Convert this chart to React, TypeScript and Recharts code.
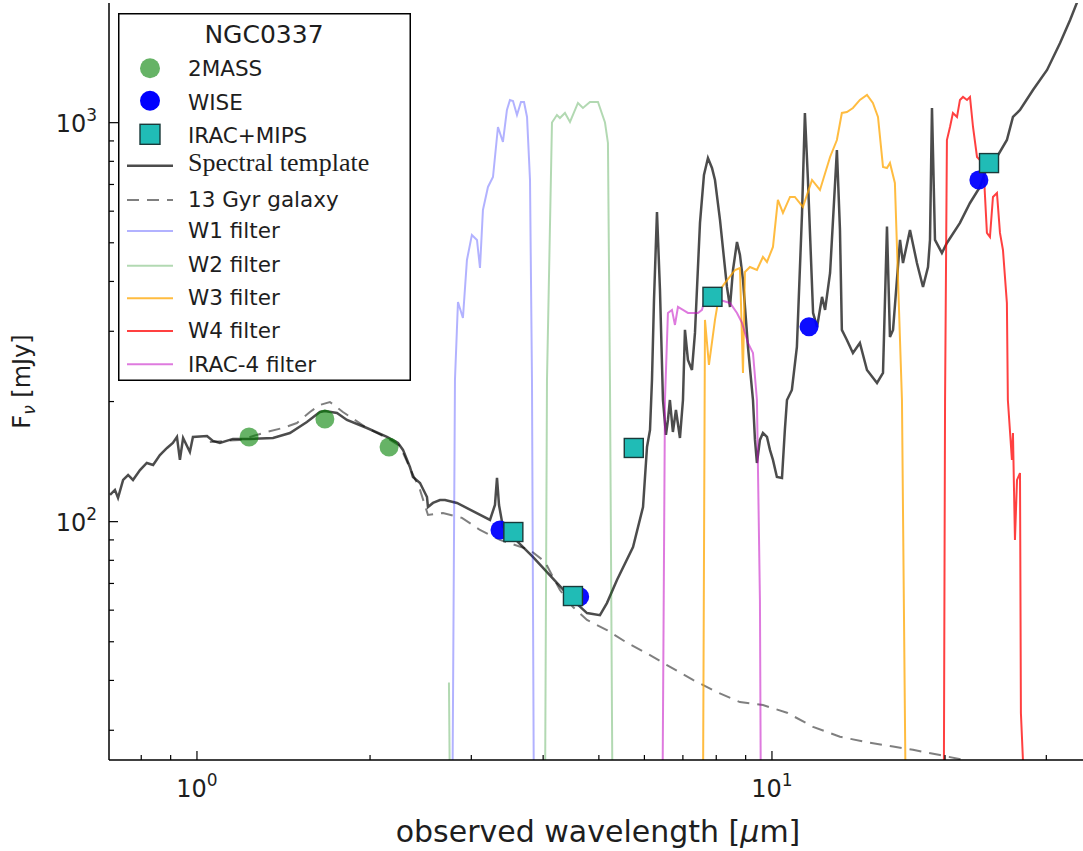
import React from "react";
import { ComposedChart, Line, Scatter, XAxis, YAxis, Legend } from "recharts";

type Pt = [number, number];

// photometry: [observed wavelength (um), flux (mJy)]
const twoMass: Pt[] = [[1.232, 163], [1.669, 180.9], [2.158, 153.9]];
const wise: Pt[] = [[3.365, 95.3], [4.63, 64.8], [11.6, 308], [22.9, 718]];
const iracMips: Pt[] = [[3.55, 94.2], [4.507, 65.1], [5.75, 153], [7.88, 366], [23.85, 792]];

// spectral template (starburst + old stellar population)
const template: Pt[] = [
  [0.706, 116.7], [0.72, 120.1], [0.729, 114.7], [0.744, 127.2], [0.759, 130.9], [0.774, 127.2],
  [0.796, 134.7], [0.818, 140.3], [0.839, 138.7], [0.862, 146.9], [0.887, 153.0], [0.908, 157.5],
  [0.923, 163.1], [0.934, 142.8], [0.946, 162.1], [0.972, 149.5], [0.984, 163.1], [1.041, 164.0],
  [1.066, 159.3], [1.096, 157.5], [1.155, 161.2], [1.236, 161.2], [1.356, 162.1], [1.451, 166.8],
  [1.553, 177.8], [1.636, 188.3], [1.669, 189.4], [1.752, 187.3], [1.823, 179.8], [1.975, 171.7],
  [2.14, 163.1], [2.237, 157.5], [2.282, 151.3], [2.346, 137.1], [2.375, 129.4], [2.443, 125.0],
  [2.512, 115.3], [2.522, 108.8], [2.573, 111.4], [2.646, 113.3], [2.7, 113.3], [2.833, 111.4],
  [3.233, 101.0], [3.298, 110.1], [3.325, 128.7], [3.352, 110.1], [3.405, 97.0], [3.545, 91.5],
  [3.839, 81.6], [4.227, 70.2], [4.507, 63.6], [4.768, 59.0], [5.022, 58.3], [5.164, 62.5],
  [5.376, 71.4], [5.733, 86.4], [5.967, 108.8], [6.063, 153.9], [6.136, 169.7], [6.185, 226.5],
  [6.235, 359.4], [6.31, 597.4], [6.386, 380.8], [6.463, 201.8], [6.541, 165.0], [6.593, 179.8],
  [6.645, 201.8], [6.725, 167.8], [6.808, 190.5], [6.918, 162.1], [7.002, 201.8], [7.058, 302.4],
  [7.143, 254.2], [7.259, 240.0], [7.347, 297.2], [7.496, 560.8], [7.616, 739.4], [7.739, 815.4],
  [7.865, 769.9], [7.96, 718.4], [8.121, 570.6], [8.351, 387.4], [8.453, 345.2], [8.555, 427.3],
  [8.693, 502.3], [8.797, 466.1], [8.904, 403.5], [9.084, 274.2], [9.268, 201.8], [9.342, 160.3],
  [9.416, 140.3], [9.53, 160.3], [9.645, 166.8], [9.802, 163.1], [9.92, 151.3], [10.04, 142.8],
  [10.2, 129.4], [10.41, 128.7], [10.53, 169.7], [10.62, 201.8], [10.83, 213.8], [11.05, 274.2],
  [11.28, 594.0], [11.41, 1057.6], [11.55, 718.4], [11.79, 333.5], [11.98, 307.6], [12.22, 365.9],
  [12.37, 339.4], [12.62, 420.1], [12.97, 854.3], [13.13, 538.6], [13.23, 302.4], [13.5, 285.4],
  [13.83, 264.8], [14.22, 280.5], [14.63, 240.0], [15.23, 222.6], [15.6, 235.9], [15.85, 548.8],
  [16.04, 290.3], [16.24, 302.4], [16.7, 508.2], [16.9, 445.0], [17.38, 538.6], [17.87, 445.0],
  [18.31, 387.4], [18.68, 434.8], [18.83, 508.2], [18.98, 1088.5], [19.21, 508.2], [19.75, 471.5],
  [20.15, 499.5], [21.23, 560.8], [22.1, 629.1], [23.0, 690.1], [23.65, 774.5], [24.62, 820.3],
  [25.62, 904.8], [26.25, 1033.5], [27.0, 1075.9], [28.44, 1207.4], [30.09, 1355.6], [31.7, 1584.0],
  [33.0, 1808.4], [34.06, 2030],
];

const oldGalaxy: Pt[] = [
  [1.053, 158.4], [1.188, 160.3], [1.323, 167.8], [1.411, 171.7], [1.492, 176.7], [1.572, 188.3],
  [1.636, 196.1], [1.703, 199.5], [1.794, 188.3], [1.975, 171.7], [2.14, 162.1], [2.254, 154.8],
  [2.346, 136.3], [2.443, 120.1], [2.522, 103.9], [2.678, 105.1], [2.89, 102.2], [3.106, 95.3],
  [3.365, 90.0], [3.794, 84.9], [4.029, 79.3], [4.278, 67.4], [4.507, 61.1], [4.768, 56.7],
  [5.164, 53.5], [5.596, 49.7], [6.136, 46.3], [6.567, 43.7], [7.288, 40.1], [8.024, 37.4],
  [8.797, 35.3], [9.645, 34.7], [10.62, 33.2], [11.79, 30.6], [13.13, 28.9], [14.63, 28.0],
  [16.24, 27.3], [17.59, 26.8], [19.6, 26.0], [21.49, 25.3], [24.92, 24.1],
];

// filter transmission curves, scaled to the flux axis
const w1Filter: Pt[] = [
  [2.765, 5], [2.81, 226.5], [2.844, 355.3], [2.901, 323.9], [2.948, 452.8], [3.007, 523.2],
  [3.069, 508.2], [3.106, 432.3], [3.143, 604.3], [3.207, 690.1], [3.272, 730.9], [3.338, 975.4],
  [3.405, 894.6], [3.46, 1075.9], [3.502, 1140.2], [3.545, 1133.6], [3.602, 1045.4], [3.66, 1127.0],
  [3.705, 1127.0], [3.75, 1033.5], [3.795, 718.4], [3.825, 226.5], [3.871, 5],
];
const w2Filter: Pt[] = [
  [2.743, 39.5], [2.777, 5], [4.012, 5], [4.062, 226.5], [4.144, 1000.7], [4.227, 1045.4],
  [4.278, 1027.5], [4.365, 1057.6], [4.454, 1004.1], [4.598, 1120.5], [4.691, 1088.5], [4.825, 1127.0],
  [4.982, 1127.0], [5.124, 1000.7], [5.185, 889.4], [5.227, 226.5], [5.311, 5],
];
const w3Filter: Pt[] = [
  [7.556, 5], [7.647, 320.3], [7.77, 247.0], [7.96, 320.3], [8.121, 380.8], [8.286, 396.5],
  [8.626, 427.3], [8.797, 432.3], [8.904, 235.9], [8.974, 422.4], [9.156, 434.8], [9.416, 427.3],
  [9.645, 460.7], [9.802, 447.6], [10.04, 488.2], [10.24, 640.2], [10.45, 594.0], [10.75, 651.3],
  [10.96, 651.3], [11.32, 614.9], [11.74, 718.4], [12.12, 678.3], [12.62, 820.3], [12.97, 904.8],
  [13.23, 1057.6], [13.5, 1063.6], [13.83, 1088.5], [14.22, 1140.2], [14.63, 1173.6], [14.98, 1120.5],
  [15.29, 1033.5], [15.6, 774.5], [15.85, 769.9], [16.04, 792.5], [16.36, 706.3], [16.83, 201.8],
  [17.24, 5],
];
const w4Filter: Pt[] = [
  [19.84, 5], [20.0, 201.8], [20.15, 904.8], [20.4, 975.4], [20.64, 1057.6], [20.98, 1033.5],
  [21.23, 1140.2], [21.49, 1160.2], [21.84, 1140.2], [22.1, 1160.2], [22.37, 975.4], [22.73, 820.3],
  [23.0, 806.3], [23.28, 820.3], [23.65, 529.3], [23.94, 517.0], [24.23, 651.3], [24.62, 666.5],
  [24.92, 529.3], [25.22, 479.7], [25.62, 353.3], [25.72, 201.8], [25.93, 169.7], [26.14, 142.8],
  [26.25, 166.8], [26.46, 90.0], [26.68, 127.2], [27.0, 132.4], [27.1, 33.1], [27.32, 25.3],
  [27.43, 5],
];
const irac4Filter: Pt[] = [
  [6.412, 5], [6.515, 201.8], [6.593, 333.5], [6.7, 339.4], [6.781, 311.2], [6.863, 345.2],
  [7.002, 339.4], [7.143, 333.5], [7.259, 333.5], [7.436, 333.5], [7.556, 339.4], [7.647, 363.7],
  [7.802, 363.7], [8.121, 359.5], [8.453, 353.3], [8.693, 333.5], [8.869, 314.9], [9.084, 280.5],
  [9.268, 264.8], [9.416, 201.8], [9.53, 63.6], [9.606, 5],
];

const xTicks = [0.8, 0.9, 1, 2, 3, 4, 5, 6, 7, 8, 9, 10, 20, 30];
const yTicks = [30, 40, 50, 60, 70, 80, 90, 100, 200, 300, 400, 500, 600, 700, 800, 900, 1000];

const toData = (pts: Pt[]) => pts.map(([x, y]) => ({ x, y }));

const font = "'DejaVu Sans', sans-serif";
const ink = "#1e1e1e";

const isMajor = (v: number) => Math.abs(Math.log10(v) - Math.round(Math.log10(v))) < 1e-9;

const Pow = ({ x, y, v, anchor }: any) => (
  <text x={x} y={y} textAnchor={anchor} fontFamily={font} fontSize={24} fill={ink}>
    10<tspan dy={-11} fontSize={17}>{Math.round(Math.log10(v))}</tspan>
  </text>
);

const BottomTick = ({ x, y, payload }: any) => {
  const major = isMajor(payload.value);
  return (
    <g>
      <line x1={x} x2={x} y1={y} y2={y - (major ? 9 : 5)} stroke="#000" strokeWidth={1.2} />
      {major && <Pow x={x} y={y + 37} v={payload.value} anchor="middle" />}
    </g>
  );
};

const TopTick = ({ x, y, payload }: any) => {
  const major = isMajor(payload.value);
  return <line x1={x} x2={x} y1={y} y2={y + (major ? 9 : 5)} stroke="#000" strokeWidth={1.2} />;
};

const LeftTick = ({ x, y, payload }: any) => {
  const major = isMajor(payload.value);
  return (
    <g>
      <line x1={x} x2={x + (major ? 9 : 5)} y1={y} y2={y} stroke="#000" strokeWidth={1.2} />
      {major && <Pow x={x - 12} y={y + 9} v={payload.value} anchor="end" />}
    </g>
  );
};

const RightTick = ({ x, y, payload }: any) => {
  const major = isMajor(payload.value);
  return <line x1={x} x2={x - (major ? 9 : 5)} y1={y} y2={y} stroke="#000" strokeWidth={1.2} />;
};

const XLabel = ({ viewBox }: any) => (
  <text x={viewBox.x + viewBox.width / 2} y={viewBox.y + 82} textAnchor="middle" fontFamily={font} fontSize={30} fill={ink}>
    observed wavelength [<tspan fontStyle="italic">μ</tspan>m]
  </text>
);

const YLabel = ({ viewBox }: any) => {
  const cx = 30;
  const cy = viewBox.y + viewBox.height / 2;
  return (
    <text x={cx} y={cy} transform={`rotate(-90 ${cx} ${cy})`} textAnchor="middle" fontFamily={font} fontSize={24} fill={ink}>
      F<tspan dy={5} fontSize={17} fontStyle="italic">ν</tspan><tspan dy={-5}> [mJy]</tspan>
    </text>
  );
};

const greenDot = (p: any) => <circle cx={p.cx} cy={p.cy} r={9.5} fill="#008000" fillOpacity={0.6} />;
const blueDot = (p: any) => <circle cx={p.cx} cy={p.cy} r={9.5} fill="#0000ff" fillOpacity={0.95} />;
const tealSquare = (p: any) => (
  <rect x={p.cx - 9.5} y={p.cy - 9.5} width={19} height={19} fill="#20bcb6" stroke="#1a3a3a" strokeWidth={1.4} />
);

const legendLines = [
  { label: "W1 filter", color: "#0000ff", opacity: 0.3, mid: 218, base: 225.3 },
  { label: "W2 filter", color: "#008000", opacity: 0.3, mid: 252.7, base: 258.7 },
  { label: "W3 filter", color: "#ffa500", opacity: 0.75, mid: 285.3, base: 292 },
  { label: "W4 filter", color: "#ff0000", opacity: 0.75, mid: 318, base: 325.3 },
  { label: "IRAC-4 filter", color: "#bf00bf", opacity: 0.52, mid: 351.3, base: 358.7 },
];

const LegendBox = () => (
  <svg width={293} height={368} style={{ display: "block" }}>
    <rect x={0.75} y={0.75} width={291.5} height={366.5} fill="#fff" stroke="#000" strokeWidth={1.5} />
    <text x={146} y={30.3} textAnchor="middle" fontFamily={font} fontSize={25} fill={ink}>NGC0337</text>
    <circle cx={32} cy={55.3} r={10} fill="#008000" fillOpacity={0.6} />
    <text x={70} y={63} fontFamily={font} fontSize={21.5} fill={ink}>2MASS</text>
    <circle cx={32} cy={87.7} r={10} fill="#0000ff" />
    <text x={70} y={97} fontFamily={font} fontSize={21.5} fill={ink}>WISE</text>
    <rect x={22} y={111.3} width={20} height={20} fill="#20bcb6" stroke="#1a3a3a" strokeWidth={1.4} />
    <text x={70} y={129.7} fontFamily={font} fontSize={21.5} fill={ink}>IRAC+MIPS</text>
    <line x1={9} x2={55} y1={152.7} y2={152.7} stroke="#000" strokeOpacity={0.7} strokeWidth={2.5} />
    <text x={70} y={157.7} fontFamily="'Liberation Serif', 'Times New Roman', serif" fontSize={26} fill={ink}>Spectral template</text>
    <line x1={9} x2={55} y1={187} y2={187} stroke="#000" strokeOpacity={0.5} strokeWidth={2} strokeDasharray="12 8" />
    <text x={70} y={194.3} fontFamily={font} fontSize={21.5} fill={ink}>13 Gyr galaxy</text>
    {legendLines.map((r) => (
      <g key={r.label}>
        <line x1={9} x2={55} y1={r.mid} y2={r.mid} stroke={r.color} strokeOpacity={r.opacity} strokeWidth={2} />
        <text x={70} y={r.base} fontFamily={font} fontSize={21.5} fill={ink}>{r.label}</text>
      </g>
    ))}
  </svg>
);

const filterLine = (id: string, pts: Pt[], color: string, opacity: number) => (
  <Line
    key={id}
    data={toData(pts)}
    dataKey="y"
    type="linear"
    stroke={color}
    strokeOpacity={opacity}
    strokeWidth={2}
    dot={false}
    activeDot={false}
    isAnimationActive={false}
  />
);

export default function App() {
  return (
    <div style={{ position: "absolute", left: 0, top: 0, width: 1083, height: 851, overflow: "hidden", background: "#fff" }}>
      <ComposedChart width={1090} height={851} margin={{ top: 3, right: 3, bottom: 0, left: 0 }}>
        <XAxis
          dataKey="x"
          type="number"
          scale="log"
          domain={[0.7031, 35.31]}
          allowDataOverflow
          ticks={xTicks}
          interval={0}
          tickSize={0}
          tickMargin={0}
          tickLine={false}
          tick={BottomTick}
          height={91}
          axisLine={{ stroke: "#000", strokeWidth: 1.5 }}
          label={<XLabel />}
        />
        <XAxis
          xAxisId="top"
          orientation="top"
          type="number"
          scale="log"
          domain={[0.7031, 35.31]}
          allowDataOverflow
          ticks={xTicks}
          interval={0}
          tickSize={0}
          tickMargin={0}
          tickLine={false}
          tick={TopTick}
          height={0}
          axisLine={{ stroke: "#000", strokeWidth: 1.5 }}
        />
        <YAxis
          dataKey="y"
          type="number"
          scale="log"
          domain={[25.27, 1995]}
          allowDataOverflow
          ticks={yTicks}
          interval={0}
          tickSize={0}
          tickMargin={0}
          tickLine={false}
          tick={LeftTick}
          width={109}
          axisLine={{ stroke: "#000", strokeWidth: 1.5 }}
          label={<YLabel />}
        />
        <YAxis
          yAxisId="right"
          orientation="right"
          type="number"
          scale="log"
          domain={[25.27, 1995]}
          allowDataOverflow
          ticks={yTicks}
          interval={0}
          tickSize={0}
          tickMargin={0}
          tickLine={false}
          tick={RightTick}
          width={0}
          axisLine={{ stroke: "#000", strokeWidth: 1.5 }}
        />
        <Line
          data={toData(template)}
          dataKey="y"
          type="linear"
          stroke="#000"
          strokeOpacity={0.7}
          strokeWidth={2.5}
          dot={false}
          activeDot={false}
          isAnimationActive={false}
        />
        <Line
          data={toData(oldGalaxy)}
          dataKey="y"
          type="linear"
          stroke="#000"
          strokeOpacity={0.5}
          strokeWidth={2}
          strokeDasharray="12 8"
          dot={false}
          activeDot={false}
          isAnimationActive={false}
        />
        {filterLine("w1", w1Filter, "#0000ff", 0.3)}
        {filterLine("w2", w2Filter, "#008000", 0.3)}
        {filterLine("w3", w3Filter, "#ffa500", 0.75)}
        {filterLine("w4", w4Filter, "#ff0000", 0.75)}
        {filterLine("irac4", irac4Filter, "#bf00bf", 0.52)}
        <Scatter data={toData(twoMass)} shape={greenDot} isAnimationActive={false} />
        <Scatter data={toData(wise)} shape={blueDot} isAnimationActive={false} />
        <Scatter data={toData(iracMips)} shape={tealSquare} isAnimationActive={false} />
        <Legend
          layout="vertical"
          align="center"
          verticalAlign="middle"
          content={<LegendBox />}
          wrapperStyle={{ left: 118, top: 13, width: 293, height: 368 }}
        />
      </ComposedChart>
    </div>
  );
}
